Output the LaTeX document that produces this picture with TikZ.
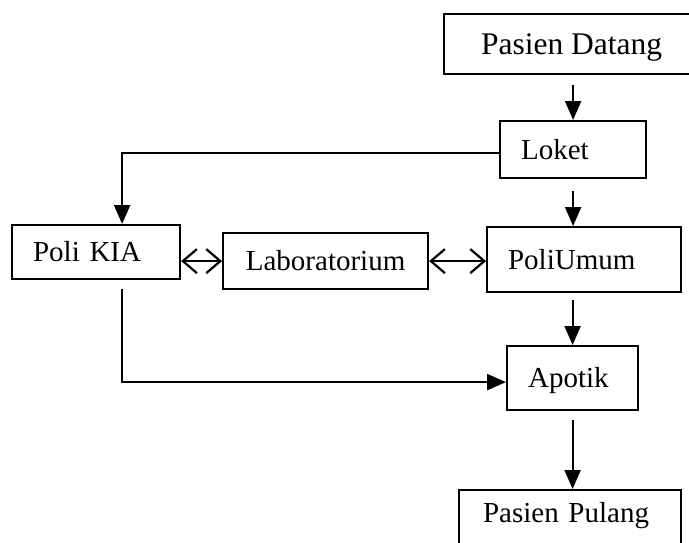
\documentclass[tikz,border=0pt]{standalone}
\usepackage{fontspec}
\setmainfont{Liberation Serif}
\usetikzlibrary{arrows.meta}

\begin{document}
\begin{tikzpicture}[x=1pt, y=-1pt,
    box/.style={draw, line width=2.2pt, anchor=north west, align=left, inner ysep=0pt, text height=19pt, text depth=0pt, font=\fontsize{29}{34}\selectfont},
    flow/.style={line width=2.2pt, -{Triangle[length=19pt,width=16pt]}},
    both/.style={line width=2.2pt, {Straight Barb[length=14pt,width=24pt]}-{Straight Barb[length=14pt,width=24pt]}}]
  \useasboundingbox (0,0) rectangle (689,542);
  \clip (0,0) rectangle (689,542);
  \node[box, minimum width=255pt, minimum height=60pt, text height=21pt, font=\fontsize{31.5}{36}\selectfont] (datang) at (443,13) {Pasien Datang};
  \node[box, text width=104pt, inner xsep=21pt, minimum height=57pt] (loket) at (499,120) {Loket};
  \node[box, text width=126pt, inner xsep=21pt, minimum height=54pt] (kia) at (11,224) {Poli KIA};
  \node[box, minimum width=205pt, minimum height=56pt] (lab) at (222,232) {Laboratorium};
  \node[box, text width=152pt, inner xsep=21pt, minimum height=65pt] (umum) at (486,226) {PoliUmum};
  \node[box, text width=89pt, inner xsep=21pt, minimum height=64pt] (apotik) at (506,345) {Apotik};
  \node[box, text width=174pt, inner xsep=24pt, inner ysep=13pt, text depth=30pt] (pulang) at (458,489) {Pasien Pulang};

  \draw[flow, shorten <=10pt] (datang.south -| loket.north) -- (loket.north);
  \draw[flow] ([yshift=-3.5pt]loket.west) -| ([xshift=26pt]kia.north);
  \draw[flow, shorten <=12pt] (loket.south) -- (loket.south |- umum.north);
  \draw[both] (lab.west -| kia.east) -- (lab.west);
  \draw[both] (lab.east) -- (lab.east -| umum.west);
  \draw[flow, shorten <=7pt] (umum.south -| apotik.north) -- (apotik.north);
  \draw[flow, shorten <=9pt] ([xshift=26pt]kia.south) |- ([yshift=-4pt]apotik.west);
  \draw[flow, shorten <=9pt] (apotik.south) -- (apotik.south |- pulang.north);
\end{tikzpicture}
\end{document}
